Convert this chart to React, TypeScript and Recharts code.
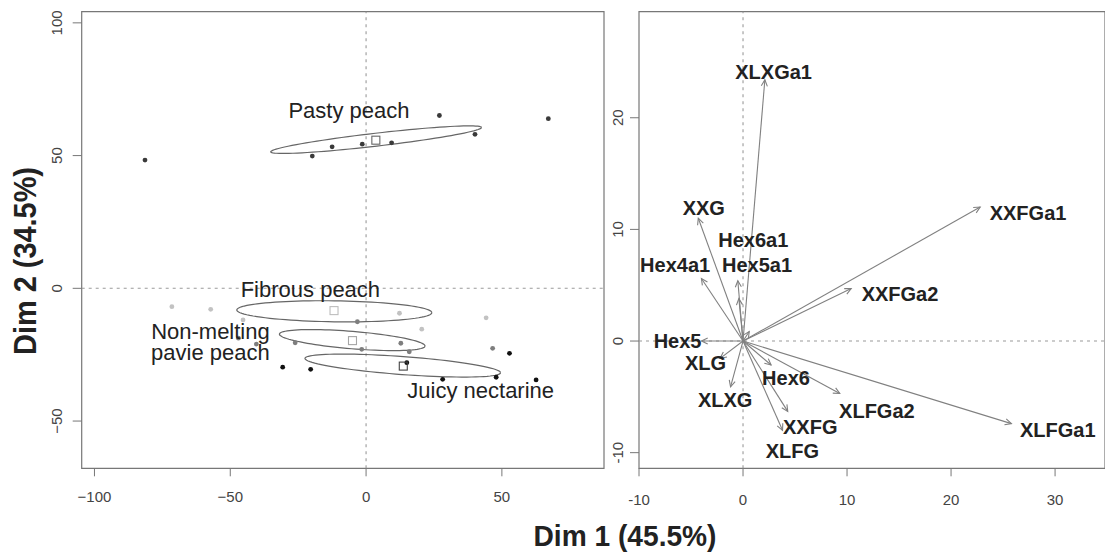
import React from 'react';
import { ScatterChart, Scatter, XAxis, YAxis, ReferenceLine, ReferenceArea } from 'recharts';

// ---------- Left panel: individuals ----------
const leftXDomain: [number, number] = [-104.7, 87.6];
const leftYDomain: [number, number] = [-67.8, 104.2];
const leftXTicks = [-100, -50, 0, 50];
const leftYTicks = [-50, 0, 50, 100];

const groupNames = ['Pasty peach', 'Fibrous peach', 'Non-melting pavie peach', 'Juicy nectarine'];
const pastyPoints = [[-81.4, 48.3], [-19.8, 49.8], [-12.5, 53.3], [-1.4, 54.3], [9.4, 54.8], [27.0, 65.1], [40.1, 58.0], [67.1, 63.9]];
const fibrousPoints = [[-71.5, -6.9], [-57.2, -7.9], [-45.3, -11.9], [12.3, -9.4], [20.5, -15.4], [44.2, -11.1]];
const nonMeltingPoints = [[-47.0, -18.8], [-40.4, -21.0], [-26.1, -20.5], [-3.2, -12.6], [-1.6, -23.0], [12.8, -20.7], [15.9, -23.9], [46.6, -22.6]];
const juicyPoints = [[-30.7, -29.7], [-20.4, -30.5], [15.0, -28.0], [28.2, -34.3], [47.9, -33.5], [52.8, -24.5], [62.6, -34.5]];
const groupCentroids = [[3.6, 55.8], [-11.8, -8.4], [-5.0, -19.7], [13.7, -29.3]];
const ellipseCentres = [[3.7, 56.0], [-11.7, -8.66], [-5.1, -19.5], [13.5, -29.1]];
const ellipseMajor = [[38.8, 4.6], [35.9, -0.51], [26.8, -2.26], [36.0, -2.71]];
const ellipseMinor = [[0.27, -2.41], [-0.05, -3.95], [-0.26, -3.26], [-0.24, -3.38]];
const groupLabelLines = [['Pasty peach'], ['Fibrous peach'], ['Non-melting', 'pavie peach'], ['Juicy nectarine']];
const groupLabelAt = [[-6.3, 64.0], [-20.5, -3.2], [-57.3, -19.1], [42.2, -41.4]];

// ---------- Right panel: variables ----------
const rightXDomain: [number, number] = [-10, 34.8];
const rightYDomain: [number, number] = [-11.4, 29.5];
const rightXTicks = [-10, 0, 10, 20, 30];
const rightYTicks = [-10, 0, 10, 20];

const varNames = ['XLXGa1', 'XXG', 'Hex6a1', 'Hex4a1', 'Hex5a1', 'XXFGa1', 'XXFGa2', 'Hex5', 'XLG', 'XLXG', 'Hex6', 'XLFGa2', 'XXFG', 'XLFG', 'XLFGa1', ''];
const varDim1 = [2.1, -4.3, -0.4, -4.0, -0.5, 22.8, 10.4, -4.0, -2.2, -1.2, 2.7, 9.3, 4.3, 3.8, 25.8, 0.6];
const varDim2 = [23.4, 11.0, 3.8, 5.6, 5.4, 12.0, 4.7, 0.0, -1.55, -4.1, -2.15, -4.7, -6.3, -8.0, -7.4, 0.85];
const varLabelDim1 = [2.94, -3.77, 0.99, -6.53, 1.35, 27.4, 15.09, -6.29, -3.61, -1.72, 4.13, 12.87, 6.46, 4.75, 30.26, 0.6];
const varLabelDim2 = [23.5, 11.28, 8.44, 6.2, 6.2, 10.83, 3.61, -0.65, -2.6, -5.88, -3.94, -6.87, -8.33, -10.5, -8.57, 0.85];

const xTitle = 'Dim 1 (45.5%)';
const yTitle = 'Dim 2 (34.5%)';

// ---------- styles ----------
const FONT = "'Liberation Sans', Arial, Helvetica, sans-serif";
const pointColors = ['#3a3a3a', '#c2c2c2', '#7e7e7e', '#111111'];
const centroidColors = ['#666666', '#bdbdbd', '#a5a5a5', '#444444'];
const BOX = '#777777';
const DASH = '#9a9a9a';

const W = 1105;
const H = 554;

const pointTables = [pastyPoints, fibrousPoints, nonMeltingPoints, juicyPoints].map((pts) =>
  pts.map(([x, y]) => ({ x, y }))
);
const centroidTable = groupCentroids.map(([x, y], i) => ({ x, y, color: centroidColors[i] }));
const ellipseTables = ellipseCentres.map((c, i) => {
  const a = ellipseMajor[i];
  const b = ellipseMinor[i];
  const n = 96;
  const out: { x: number; y: number }[] = [];
  for (let k = 0; k <= n; k++) {
    const t = (2 * Math.PI * k) / n;
    out.push({ x: c[0] + a[0] * Math.cos(t) + b[0] * Math.sin(t), y: c[1] + a[1] * Math.cos(t) + b[1] * Math.sin(t) });
  }
  return out;
});
const groupLabelTable = groupLabelAt.map(([x, y], i) => ({ x, y, lines: groupLabelLines[i], name: groupNames[i] }));
const varLabelTable = varNames.map((name, i) => ({ x: varLabelDim1[i], y: varLabelDim2[i], name }));

const fmt = (minus: string) => (v: number) => (v < 0 ? minus + Math.abs(v) : String(v));

const makeXTick = (dy: number, minus: string) => (p: any) => (
  <text x={p.x} y={p.y} dy={dy} textAnchor="middle" fontSize={15} fill="#444" fontFamily={FONT}>
    {fmt(minus)(p.payload.value)}
  </text>
);
const makeYTick = (minus: string) => (p: any) => (
  <text
    x={p.x}
    y={p.y}
    transform={`rotate(-90 ${p.x} ${p.y})`}
    textAnchor="middle"
    fontSize={15}
    fill="#444"
    fontFamily={FONT}
  >
    {fmt(minus)(p.payload.value)}
  </text>
);

const makeDot = (color: string) => (p: any) => <circle cx={p.cx} cy={p.cy} r={2.4} fill={color} />;
const SquareShape = (p: any) => (
  <rect x={p.cx - 4} y={p.cy - 4} width={8} height={8} fill="none" stroke={p.payload.color} strokeWidth={1.1} />
);
const NoShape = () => <g />;
const GroupLabel = (p: any) => (
  <text x={p.cx} y={p.cy} textAnchor="middle" fontSize={22} fill="#222" fontFamily={FONT}>
    {p.payload.lines.map((l: string, i: number) => (
      <tspan key={i} x={p.cx} dy={i === 0 ? 0 : 20.5}>
        {l}
      </tspan>
    ))}
  </text>
);
const VarLabel = (p: any) => (
  <text x={p.cx} y={p.cy} textAnchor="middle" fontSize={20} fontWeight="bold" fill="#222" fontFamily={FONT}>
    {p.payload.name}
  </text>
);
const Arrow = (p: any) => {
  const { x1, y1, x2, y2 } = p;
  const ang = Math.atan2(y2 - y1, x2 - x1);
  const L = 7;
  const a = Math.PI / 7;
  const h1 = [x2 - L * Math.cos(ang - a), y2 - L * Math.sin(ang - a)];
  const h2 = [x2 - L * Math.cos(ang + a), y2 - L * Math.sin(ang + a)];
  return (
    <g stroke="#808080" strokeWidth={1.1} fill="none">
      <line x1={x1} y1={y1} x2={x2} y2={y2} />
      <polyline points={`${h1[0]},${h1[1]} ${x2},${y2} ${h2[0]},${h2[1]}`} />
    </g>
  );
};

const abs: React.CSSProperties = { position: 'absolute', left: 0, top: 0 };

export default function App() {
  return (
    <div style={{ ...abs, width: W, height: H, background: '#fff' }}>
      <div style={abs}>
        <ScatterChart width={W} height={H} margin={{ top: 11.7, right: 501, bottom: 55.7, left: 21.7 }}>
          <XAxis
            type="number"
            dataKey="x"
            domain={leftXDomain}
            allowDataOverflow
            ticks={leftXTicks}
            interval={0}
            height={30}
            axisLine={false}
            tickSize={8}
            tickMargin={0}
            tickLine={{ stroke: BOX }}
            tick={makeXTick(25.4, '\u2212')}
          />
          <YAxis
            type="number"
            dataKey="y"
            domain={leftYDomain}
            allowDataOverflow
            ticks={leftYTicks}
            interval={0}
            width={60}
            axisLine={false}
            tickSize={9}
            tickMargin={11}
            tickLine={{ stroke: BOX }}
            tick={makeYTick('\u2212')}
          />
          <ReferenceArea
            x1={leftXDomain[0]}
            x2={leftXDomain[1]}
            y1={leftYDomain[0]}
            y2={leftYDomain[1]}
            fill="none"
            stroke={BOX}
            strokeWidth={1.2}
            ifOverflow="visible"
          />
          <ReferenceLine x={0} stroke={DASH} strokeDasharray="3 4" strokeWidth={1.1} />
          <ReferenceLine y={0} stroke={DASH} strokeDasharray="3 4" strokeWidth={1.1} />
          {ellipseTables.map((d, i) => (
            <Scatter
              key={'e' + i}
              data={d}
              shape={NoShape}
              line={{ stroke: '#666', strokeWidth: 1.2, fill: 'none' }}
              lineType="joint"
              isAnimationActive={false}
            />
          ))}
          {pointTables.map((d, i) => (
            <Scatter key={'p' + i} data={d} shape={makeDot(pointColors[i])} isAnimationActive={false} />
          ))}
          <Scatter data={centroidTable} shape={SquareShape} isAnimationActive={false} />
          <Scatter data={groupLabelTable} shape={GroupLabel} isAnimationActive={false} />
        </ScatterChart>
      </div>
      <div style={abs}>
        <ScatterChart width={W} height={H} margin={{ top: 11.7, right: 0, bottom: 55.7, left: 579 }}>
          <XAxis
            type="number"
            dataKey="x"
            domain={rightXDomain}
            allowDataOverflow
            ticks={rightXTicks}
            interval={0}
            height={30}
            axisLine={false}
            tickSize={8}
            tickMargin={0}
            tickLine={{ stroke: BOX }}
            tick={makeXTick(28.4, '-')}
          />
          <YAxis
            type="number"
            dataKey="y"
            domain={rightYDomain}
            allowDataOverflow
            ticks={rightYTicks}
            interval={0}
            width={60}
            axisLine={false}
            tickSize={9}
            tickMargin={7}
            tickLine={{ stroke: BOX }}
            tick={makeYTick('-')}
          />
          <ReferenceArea
            x1={rightXDomain[0]}
            x2={rightXDomain[1]}
            y1={rightYDomain[0]}
            y2={rightYDomain[1]}
            fill="none"
            stroke={BOX}
            strokeWidth={1.2}
            ifOverflow="visible"
          />
          <ReferenceLine x={0} stroke={DASH} strokeDasharray="3 4" strokeWidth={1.1} />
          <ReferenceLine y={0} stroke={DASH} strokeDasharray="3 4" strokeWidth={1.1} />
          {varDim1.map((vx, i) => (
            <ReferenceLine
              key={'a' + i}
              segment={[
                { x: 0, y: 0 },
                { x: vx, y: varDim2[i] },
              ]}
              shape={Arrow}
              ifOverflow="visible"
            />
          ))}
          <Scatter data={varLabelTable} shape={VarLabel} isAnimationActive={false} />
        </ScatterChart>
      </div>
      <svg style={{ ...abs, pointerEvents: 'none' }} width={W} height={H}>
        <text
          x={625}
          y={546}
          textAnchor="middle"
          fontSize={30}
          fontWeight="bold"
          fill="#222"
          fontFamily={FONT}
          textLength={183}
          lengthAdjust="spacingAndGlyphs"
        >
          {xTitle}
        </text>
        <text
          x={35.5}
          y={261}
          transform="rotate(-90 35.5 261)"
          textAnchor="middle"
          fontSize={31}
          fontWeight="bold"
          fill="#222"
          fontFamily={FONT}
          textLength={188}
          lengthAdjust="spacingAndGlyphs"
        >
          {yTitle}
        </text>
      </svg>
    </div>
  );
}
